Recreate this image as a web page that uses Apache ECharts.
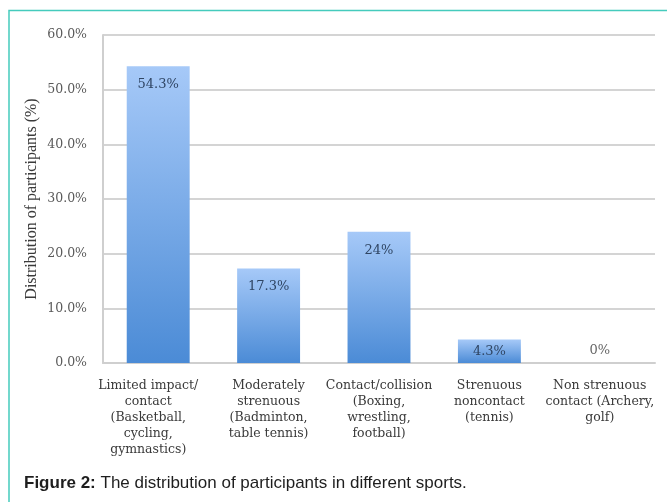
<!DOCTYPE html>
<html>
<head>
<meta charset="utf-8">
<script src="https://cdn.jsdelivr.net/npm/echarts@6/dist/echarts.min.js"></script>
<style>
html,body{margin:0;padding:0;background:#fff;}
#c{width:667px;height:502px;}
</style>
</head>
<body>
<div id="c"></div>
<script>
var categories = [
  "Limited impact/\ncontact\n(Basketball,\ncycling,\ngymnastics)",
  "Moderately\nstrenuous\n(Badminton,\ntable tennis)",
  "Contact/collision\n(Boxing,\nwrestling,\nfootball)",
  "Strenuous\nnoncontact\n(tennis)",
  "Non strenuous\ncontact (Archery,\ngolf)"
];
var values = [54.3, 17.3, 24, 4.3, 0];
var valueLabels = ["54.3%", "17.3%", "24%", "4.3%", "0%"];
var yTicks = [0, 10, 20, 30, 40, 50, 60];

var serif = "'Liberation Serif', 'DejaVu Serif', serif";
var wideSerif = "'DejaVu Serif', 'Liberation Serif', serif";
var chart = echarts.init(document.getElementById('c'), null, {renderer: 'canvas'});

var data = values.map(function (v, i) {
  var d = {value: v};
  if (i === 3) d.label = {position: 'inside', distance: 0};
  if (i === 4) d.label = {position: 'top', distance: 6, color: '#666666'};
  return d;
});

var catData = categories.map(function (c, i) {
  var d = {value: c};
  if (i === 0) d.textStyle = {padding: [0, 20, 0, 0]};
  return d;
});

chart.setOption({
  backgroundColor: '#ffffff',
  animation: false,
  grid: {left: 103, right: 12, top: 35, bottom: 139, containLabel: false},
  graphic: [{
    type: 'rect',
    shape: {x: 9, y: 10.5, width: 720, height: 560},
    style: {fill: 'none', stroke: '#45cbbd', lineWidth: 1.5},
    silent: true,
    z: -10
  }],
  title: {
    text: '{b|Figure 2:} The distribution of participants in different sports.',
    left: 24,
    top: 475,
    padding: 0,
    textStyle: {
      fontFamily: "'Liberation Sans', Arial, sans-serif",
      fontSize: 17,
      fontWeight: 'normal',
      color: '#1e1e1e',
      rich: {
        b: {fontFamily: "'Liberation Sans', Arial, sans-serif", fontSize: 17, fontWeight: 'bold', color: '#1e1e1e'}
      }
    }
  },
  xAxis: {
    type: 'category',
    data: catData,
    axisTick: {show: false},
    axisLine: {show: true, lineStyle: {color: '#cfcfcf', width: 2}},
    axisLabel: {
      interval: 0,
      margin: 15,
      fontFamily: wideSerif,
      fontSize: 12.5,
      lineHeight: 16,
      color: '#3a3a3a'
    }
  },
  yAxis: {
    type: 'value',
    min: 0,
    max: 60,
    interval: 10,
    name: 'Distribution of participants (%)',
    nameLocation: 'middle',
    nameRotate: 90,
    nameGap: 63,
    nameMoveOverlap: false,
    nameTextStyle: {fontFamily: serif, fontSize: 16, color: '#3a3a3a'},
    axisLine: {show: true, lineStyle: {color: '#cfcfcf', width: 2}},
    axisTick: {show: false},
    splitLine: {lineStyle: {color: '#d4d4d4', width: 2}},
    axisLabel: {
      margin: 16,
      fontFamily: wideSerif,
      fontSize: 12.5,
      color: '#595959',
      formatter: function (v) { return yTicks.indexOf(v) >= 0 ? v.toFixed(1) + '%' : ''; }
    }
  },
  series: [{
    type: 'bar',
    data: data,
    barWidth: '57%',
    itemStyle: {
      color: new echarts.graphic.LinearGradient(0, 0, 0, 1, [
        {offset: 0, color: '#a6c9f8'},
        {offset: 1, color: '#4b8bd6'}
      ])
    },
    label: {
      show: true,
      position: 'insideTop',
      distance: 12,
      fontFamily: wideSerif,
      fontSize: 13,
      color: '#2f4563',
      formatter: function (p) { return valueLabels[p.dataIndex]; }
    }
  }]
});
</script>
</body>
</html>
